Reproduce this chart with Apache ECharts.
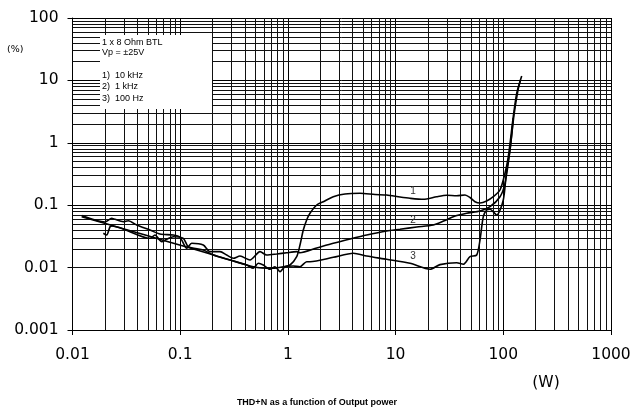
<!DOCTYPE html>
<html>
<head>
<meta charset="utf-8">
<script src="https://cdn.jsdelivr.net/npm/echarts@6/dist/echarts.min.js"></script>
<style>
  html, body { margin: 0; padding: 0; background: #fff; }
  #chart { width: 634px; height: 410px; }
</style>
</head>
<body>
<div id="chart"></div>
<script>
// THD+N versus output power, 1 x 8 Ohm BTL, Vp = ±25V
const xTicks = [0.01, 0.1, 1, 10, 100, 1000];
const yTicks = [0.001, 0.01, 0.1, 1, 10, 100];

// 1) 10 kHz
const power10k = [0.01217, 0.0301, 0.0745, 0.184, 0.4773, 0.732, 0.906, 1.046, 1.207, 1.295, 1.39, 1.494, 1.604, 1.851, 2.132, 2.639, 3.39, 4.67, 6.438, 8.265, 10.98, 13.6, 18.08, 24.07, 29.82, 36.93, 44.1, 49.07, 54.6, 60.76, 70.1, 80.8, 93.2, 103.7, 111.3, 123.8, 133.2, 148.2];
const thd10k = [0.0655, 0.0417, 0.0265, 0.0168, 0.01033, 0.00974, 0.01033, 0.01101, 0.01495, 0.023, 0.04, 0.0579, 0.0742, 0.1007, 0.1138, 0.1368, 0.1512, 0.1551, 0.1484, 0.1457, 0.1353, 0.129, 0.1243, 0.1368, 0.1441, 0.142, 0.1457, 0.1329, 0.1138, 0.1084, 0.1168, 0.1368, 0.1752, 0.3244, 0.5987, 2.619, 6.21, 11.77];

// 2) 1 kHz
const power1k = [0.01217, 0.02004, 0.02312, 0.0248, 0.0296, 0.03295, 0.03946, 0.05244, 0.0649, 0.0863, 0.0996, 0.1149, 0.1279, 0.1639, 0.1891, 0.2341, 0.2702, 0.3112, 0.3591, 0.4446, 0.5507, 0.6353, 0.787, 0.9745, 1.207, 1.295, 1.851, 2.639, 3.773, 5.39, 8.265, 10.98, 15.7, 22.39, 28.74, 34.34, 45.72, 60.76, 75.3, 93.2, 103.7, 115.4, 123.8];
const thd1k = [0.0684, 0.0538, 0.0617, 0.0594, 0.0544, 0.0564, 0.0482, 0.04, 0.0345, 0.0333, 0.0306, 0.0204, 0.0245, 0.023, 0.018, 0.018, 0.0159, 0.0141, 0.01534, 0.01323, 0.018, 0.0159, 0.01653, 0.01732, 0.018, 0.01732, 0.0206, 0.0245, 0.0287, 0.0333, 0.0386, 0.0411, 0.0447, 0.0482, 0.0569, 0.0655, 0.0742, 0.0807, 0.0946, 0.1368, 0.2244, 0.767, 2.497];

// 3) 100 Hz
const power100 = [0.01932, 0.02077, 0.02229, 0.02326, 0.05244, 0.05834, 0.0673, 0.0749, 0.0863, 0.1069, 0.1189, 0.1639, 0.2029, 0.29, 0.4144, 0.4773, 0.531, 0.591, 0.682, 0.759, 0.845, 0.94, 1.122, 1.295, 1.494, 1.604, 2.639, 4.047, 5.39, 8.265, 13.6, 20.9, 25.8, 36.93, 42.5, 49.07, 56.6, 60.76, 65.2, 70.1, 75.3, 86.8, 100, 107.5, 115.4, 125.7, 136.9, 144.5];
const thd100 = [0.0355, 0.0333, 0.0452, 0.0464, 0.02948, 0.0333, 0.026, 0.0284, 0.0313, 0.02948, 0.0216, 0.01914, 0.0159, 0.01323, 0.01101, 0.00974, 0.01172, 0.01101, 0.00939, 0.01033, 0.0086, 0.01033, 0.0106, 0.01033, 0.01243, 0.01243, 0.01462, 0.01694, 0.01534, 0.01358, 0.01172, 0.00939, 0.01115, 0.01198, 0.0113, 0.01495, 0.0159, 0.0277, 0.0655, 0.0838, 0.0859, 0.0697, 0.1211, 0.3665, 0.767, 2.79, 7.02, 10.15];

// curve numbers, placed over each curve near 14.5 W
const curveTags = ['1', '2', '3'];
const tagPower = 14.5;

const FONT = 'Liberation Sans, Arial, sans-serif';
const AXIS_FONT = 'DejaVu Sans, Liberation Sans, sans-serif';

function pairs(xs, ys) { return xs.map((x, i) => [x, ys[i]]); }

function minorValues(ticks) {
  const out = [];
  for (let i = 0; i < ticks.length - 1; i++) {
    for (let k = 2; k <= 9; k++) out.push(Number((ticks[i] * k).toPrecision(2)));
  }
  return out;
}

function valueAt(xs, ys, x) {
  for (let i = 0; i < xs.length - 1; i++) {
    if (x >= xs[i] && x <= xs[i + 1]) {
      const t = (Math.log(x) - Math.log(xs[i])) / (Math.log(xs[i + 1]) - Math.log(xs[i]));
      return Math.exp(Math.log(ys[i]) + t * (Math.log(ys[i + 1]) - Math.log(ys[i])));
    }
  }
  return ys[ys.length - 1];
}

const gridLines = [
  ...minorValues(xTicks).map(v => ({ xAxis: v })),
  ...minorValues(yTicks).map(v => ({ yAxis: v }))
];

function curve(name, xs, ys, tag, withGrid) {
  const s = {
    name: name,
    type: 'line',
    data: pairs(xs, ys),
    showSymbol: false,
    symbol: 'none',
    smooth: 0.25,
    lineStyle: { color: '#000', width: 1.6 },
    z: 5,
    markPoint: {
      symbol: 'circle', symbolSize: 1,
      itemStyle: { color: 'rgba(0,0,0,0)' },
      label: { show: true, position: 'top', distance: 2, formatter: tag, color: '#333', fontFamily: FONT, fontSize: 10 },
      data: [{ coord: [tagPower, valueAt(xs, ys, tagPower)] }]
    }
  };
  if (withGrid) {
    s.markLine = {
      silent: true,
      symbol: ['none', 'none'],
      animation: false,
      label: { show: false },
      lineStyle: { color: '#111', width: 1, type: 'solid' },
      emphasis: { disabled: true },
      data: gridLines,
      z: 1
    };
  }
  return s;
}

const chart = echarts.init(document.getElementById('chart'), null, { renderer: 'canvas' });

const tickFmt = v => String(Number(Number(v).toPrecision(1)));

chart.setOption({
  animation: false,
  backgroundColor: '#fff',
  grid: { left: 72.5, right: 23, top: 18, bottom: 80, containLabel: false },
  xAxis: {
    type: 'log', logBase: 10, min: xTicks[0], max: xTicks[xTicks.length - 1],
    axisLine: { show: true, lineStyle: { color: '#000', width: 1 } },
    axisTick: { show: true, inside: false, length: 5, lineStyle: { color: '#000' } },
    axisLabel: { color: '#000', fontFamily: AXIS_FONT, fontSize: 15.5, margin: 17, formatter: tickFmt },
    splitLine: { show: true, lineStyle: { color: '#000', width: 1 } },
    minorTick: { show: false }, minorSplitLine: { show: false }
  },
  yAxis: {
    type: 'log', logBase: 10, min: yTicks[0], max: yTicks[yTicks.length - 1],
    axisLine: { show: true, lineStyle: { color: '#000', width: 1 } },
    axisTick: { show: true, inside: false, length: 5, lineStyle: { color: '#000' } },
    axisLabel: { color: '#000', fontFamily: AXIS_FONT, fontSize: 15.5, margin: 14, formatter: tickFmt },
    splitLine: { show: true, lineStyle: { color: '#000', width: 1 } },
    minorTick: { show: false }, minorSplitLine: { show: false }
  },
  graphic: [
    { type: 'rect', z: 100, shape: { x: 100, y: 35, width: 112, height: 74 }, style: { fill: '#fff' } },
    { type: 'text', z: 101, x: 102, y: 43, style: { text: '1 x 8 Ohm BTL', font: '9px ' + FONT, fill: '#000', verticalAlign: 'middle' } },
    { type: 'text', z: 101, x: 102, y: 53, style: { text: 'Vp = ±25V', font: '9px ' + FONT, fill: '#000', verticalAlign: 'middle' } },
    { type: 'text', z: 101, x: 102, y: 76, style: { text: '1)  10 kHz', font: '9px ' + FONT, fill: '#000', verticalAlign: 'middle' } },
    { type: 'text', z: 101, x: 102, y: 87, style: { text: '2)  1 kHz', font: '9px ' + FONT, fill: '#000', verticalAlign: 'middle' } },
    { type: 'text', z: 101, x: 102, y: 98.5, style: { text: '3)  100 Hz', font: '9px ' + FONT, fill: '#000', verticalAlign: 'middle' } },
    { type: 'text', x: 7, y: 50, style: { text: '(%)', font: '9.5px ' + AXIS_FONT, fill: '#000', verticalAlign: 'middle' } },
    { type: 'text', x: 546, y: 383, style: { text: '(W)', font: '15.5px ' + AXIS_FONT, fill: '#000', align: 'center', verticalAlign: 'middle' } },
    { type: 'text', x: 317, y: 403, style: { text: 'THD+N as a function of Output power', font: 'bold 9px ' + FONT, fill: '#000', align: 'center', verticalAlign: 'middle' } }
  ],
  series: [
    curve('1) 10 kHz', power10k, thd10k, curveTags[0], true),
    curve('2) 1 kHz', power1k, thd1k, curveTags[1], false),
    curve('3) 100 Hz', power100, thd100, curveTags[2], false)
  ]
});
</script>
</body>
</html>
